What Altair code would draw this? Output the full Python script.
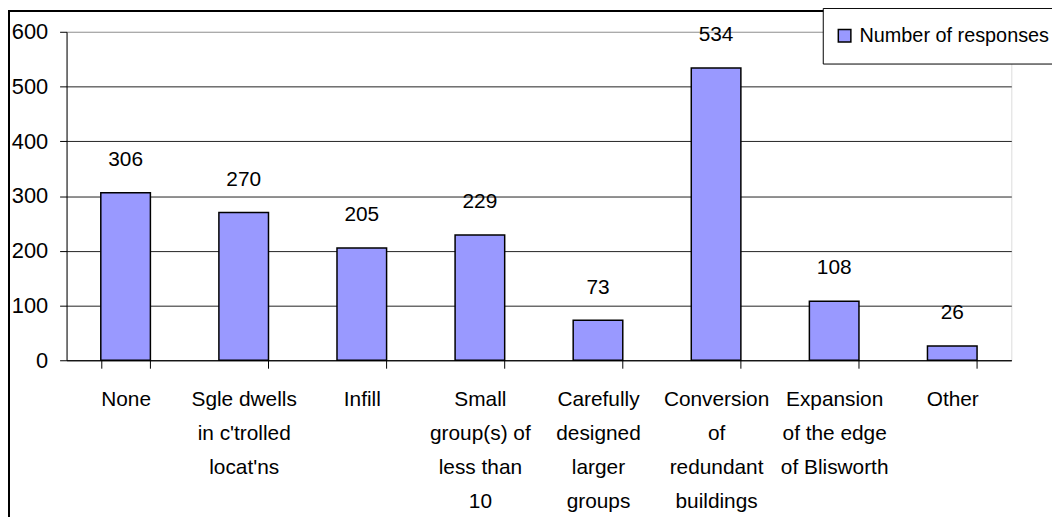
import altair as alt
import pandas as pd

categories = [
    "None",
    "Sgle dwells|in c'trolled|locat'ns",
    "Infill",
    "Small|group(s) of|less than|10",
    "Carefully|designed|larger|groups",
    "Conversion|of|redundant|buildings",
    "Expansion|of the edge|of Blisworth",
    "Other",
]
responses = [306, 270, 205, 229, 73, 534, 108, 26]
series_name = "Number of responses"
y_ticks = [0, 100, 200, 300, 400, 500, 600]

df = pd.DataFrame({"category": categories, "value": responses, "series": series_name})

FONT = "Liberation Sans"
FS = 21
W, H = 952, 331

x = alt.X(
    "category:N",
    sort=categories,
    scale=alt.Scale(paddingInner=0.58, paddingOuter=0.29),
    axis=alt.Axis(
        title=None,
        labelAngle=0,
        labelExpr="split(datum.label, '|')",
        labelLineHeight=34,
        labelFont=FONT,
        labelFontSize=FS,
        labelColor="#000000",
        labelPadding=21,
        labelBaseline="top",
        tickBand="extent",
        tickSize=8,
        tickColor="#000000",
        domainColor="#000000",
        domainWidth=1,
        labelLimit=200,
    ),
)
y = alt.Y(
    "value:Q",
    scale=alt.Scale(domain=[0, 600], nice=False),
    axis=alt.Axis(
        title=None,
        values=y_ticks,
        labelFont=FONT,
        labelFontSize=22,
        labelColor="#000000",
        labelPadding=12,
        tickSize=7,
        tickColor="#000000",
        domainColor="#000000",
        gridColor=alt.condition("datum.value == 600", alt.value("#999999"), alt.value("#222222")),
        gridWidth=1,
    ),
)

bars = alt.Chart(df).mark_bar(stroke="#000000", strokeWidth=1.5).encode(
    x=x,
    y=y,
    color=alt.Color(
        "series:N",
        scale=alt.Scale(range=["#9999FF"]),
        legend=alt.Legend(
            title=None,
            orient="none",
            legendX=762,
            legendY=-24,
            strokeColor="#000000",
            fillColor="#ffffff",
            padding=12,
            clipHeight=32,
            symbolType="square",
            symbolSize=160,
            symbolStrokeColor="#000000",
            symbolStrokeWidth=1.5,
            labelFont=FONT,
            labelFontSize=20,
            labelColor="#000000",
            labelLimit=400,
            labelOffset=5,
        ),
    ),
)

labels = alt.Chart(df).mark_text(
    font=FONT, fontSize=FS, color="#000000", baseline="middle", dy=-33
).encode(x=alt.X("category:N", sort=categories), y="value:Q", text="value:Q")

border_left = alt.Chart(df).mark_rule(color="#000000", strokeWidth=1.5).encode(
    x=alt.value(-58), y=alt.value(-22), y2=alt.value(500)
)
border_top = alt.Chart(df).mark_rule(color="#000000", strokeWidth=1.5).encode(
    x=alt.value(-58), x2=alt.value(1000), y=alt.value(-21)
)

chart = (
    alt.layer(bars, labels, border_left, border_top)
    .properties(
        width=W,
        height=H,
        autosize=alt.AutoSizeParams(type="none"),
        padding={"left": 59, "top": 22, "right": 41, "bottom": 160},
    )
    .configure_view(stroke="#999999", strokeWidth=1.5)
    .configure(background="#ffffff")
)

chart.save("out.html", embed_options={"renderer": "svg", "actions": False})
